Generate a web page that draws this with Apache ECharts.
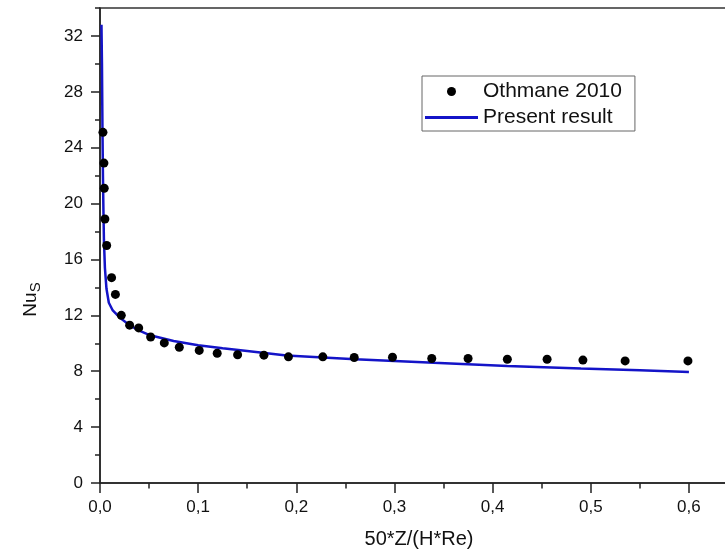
<!DOCTYPE html>
<html>
<head>
<meta charset="utf-8">
<script src="https://cdn.jsdelivr.net/npm/echarts@6/dist/echarts.min.js"></script>
<style>
html,body{margin:0;padding:0;background:#fff;}
#chart{width:725px;height:554px;}
</style>
</head>
<body>
<div id="chart"></div>
<script>
// Reference data: Othmane 2010 (scatter)
const othmaneX = [0.003, 0.004, 0.0043, 0.005, 0.0068, 0.0118, 0.0157, 0.0217, 0.0302, 0.0394, 0.0516, 0.0655, 0.0808, 0.1011, 0.1194, 0.1402, 0.167, 0.192, 0.227, 0.259, 0.298, 0.338, 0.375, 0.415, 0.4555, 0.492, 0.535, 0.599];
const othmaneY = [25.1, 22.9, 21.1, 18.9, 17.0, 14.7, 13.5, 12.0, 11.3, 11.1, 10.45, 10.03, 9.72, 9.49, 9.29, 9.18, 9.15, 9.03, 9.03, 8.98, 9.0, 8.91, 8.91, 8.86, 8.86, 8.8, 8.74, 8.74];
// Present result (line)
const presentX = [0.0015, 0.002, 0.0025, 0.003, 0.0035, 0.004, 0.005, 0.0066, 0.009, 0.013, 0.02, 0.03, 0.04, 0.05, 0.075, 0.1, 0.125, 0.15, 0.19, 0.26, 0.34, 0.415, 0.49, 0.55, 0.6];
const presentY = [32.8, 30.0, 25.5, 22.0, 19.5, 17.4, 15.4, 13.9, 12.9, 12.35, 11.85, 11.3, 10.9, 10.6, 10.17, 9.86, 9.65, 9.45, 9.12, 8.85, 8.6, 8.38, 8.19, 8.07, 7.95];
// Tick labels
const xTickValues = [0, 0.1, 0.2, 0.3, 0.4, 0.5, 0.6];
const xTickLabels = ['0,0', '0,1', '0,2', '0,3', '0,4', '0,5', '0,6'];
const yTickValues = [0, 4, 8, 12, 16, 20, 24, 28, 32];
const yTickLabels = ['0', '4', '8', '12', '16', '20', '24', '28', '32'];
const seriesNames = ['Othmane 2010', 'Present result'];

const FONT = "'Liberation Sans', Arial, sans-serif";
const AX = '#222';

const chart = echarts.init(document.getElementById('chart'), null, {renderer: 'canvas'});
const option = {
  backgroundColor: '#fff',
  animation: false,
  textStyle: {fontFamily: FONT, color: AX},
  grid: {left: 100, width: 638, top: 8, bottom: 71, outerBoundsMode: 'none', containLabel: false,
    show: true, borderColor: '#333', borderWidth: 1.5, backgroundColor: 'transparent'},
  legend: {
    orient: 'vertical', left: 422, top: 76,
    padding: [5, 13, 3, 3],
    itemWidth: 53, itemHeight: 9, itemGap: 5,
    borderColor: '#666', borderWidth: 1,
    textStyle: {fontFamily: FONT, fontSize: 21, color: '#111'},
    data: [
      {name: seriesNames[0], icon: 'circle'},
      {name: seriesNames[1], icon: 'path://M0,0H53V3H0Z'}
    ]
  },
  xAxis: [{
    type: 'value', min: 0, max: 0.65, interval: 0.1, position: 'bottom',
    name: '50*Z/(H*Re)', nameLocation: 'middle', nameGap: 46,
    nameTextStyle: {fontFamily: FONT, fontSize: 20, color: '#111'},
    axisLine: {show: true, onZero: false, lineStyle: {color: AX, width: 1.5}},
    axisTick: {show: true, length: 10, customValues: xTickValues, lineStyle: {color: AX, width: 1.5}},
    axisLabel: {show: true, margin: 16, fontSize: 17, color: '#111', fontFamily: FONT, customValues: xTickValues,
      formatter: v => { const i = xTickValues.findIndex(t => Math.abs(t - v) < 1e-6); return i >= 0 ? xTickLabels[i] : ''; }},
    splitLine: {show: false}
  }, {
    type: 'value', min: 0, max: 0.65, interval: 0.05, position: 'bottom',
    axisLine: {show: false, onZero: false},
    axisTick: {show: true, length: 5.5, lineStyle: {color: AX, width: 1.5}},
    axisLabel: {show: false},
    splitLine: {show: false}
  }],
  yAxis: [{
    type: 'value', min: 0, max: 34, interval: 4, position: 'left',
    name: '{n|Nu}{s|S}', nameLocation: 'middle', nameRotate: 90, nameGap: 57,
    nameTextStyle: {
      fontFamily: FONT, color: '#111', padding: [0, 108, 0, 0],
      rich: {
        n: {fontFamily: FONT, fontSize: 19, color: '#111', lineHeight: 22, verticalAlign: 'top'},
        s: {fontFamily: FONT, fontSize: 15, color: '#111', lineHeight: 15, verticalAlign: 'bottom', padding: [12, 0, 0, 0]}
      }
    },
    axisLine: {show: true, onZero: false, lineStyle: {color: AX, width: 1.5}},
    axisTick: {show: true, length: 9, customValues: yTickValues, lineStyle: {color: AX, width: 1.5}},
    axisLabel: {show: true, margin: 17, fontSize: 17, color: '#111', fontFamily: FONT, customValues: yTickValues,
      formatter: v => { const i = yTickValues.indexOf(v); return i >= 0 ? yTickLabels[i] : ''; }},
    splitLine: {show: false}
  }, {
    type: 'value', min: 0, max: 34, interval: 2, position: 'left',
    axisLine: {show: false, onZero: false},
    axisTick: {show: true, length: 5, lineStyle: {color: AX, width: 1.5}},
    axisLabel: {show: false},
    splitLine: {show: false}
  }],
  series: [{
    name: seriesNames[0], type: 'scatter', xAxisIndex: 0, yAxisIndex: 0,
    symbol: 'circle', symbolSize: 9,
    itemStyle: {color: '#000', opacity: 1},
    data: othmaneX.map((x, i) => [x, othmaneY[i]]),
    z: 3
  }, {
    name: seriesNames[1], type: 'line', xAxisIndex: 0, yAxisIndex: 0,
    symbol: 'none', smooth: false,
    lineStyle: {color: '#1414c8', width: 2.5},
    itemStyle: {color: '#1414c8'},
    data: presentX.map((x, i) => [x, presentY[i]]),
    z: 2
  }]
};
chart.setOption(option);
</script>
</body>
</html>
